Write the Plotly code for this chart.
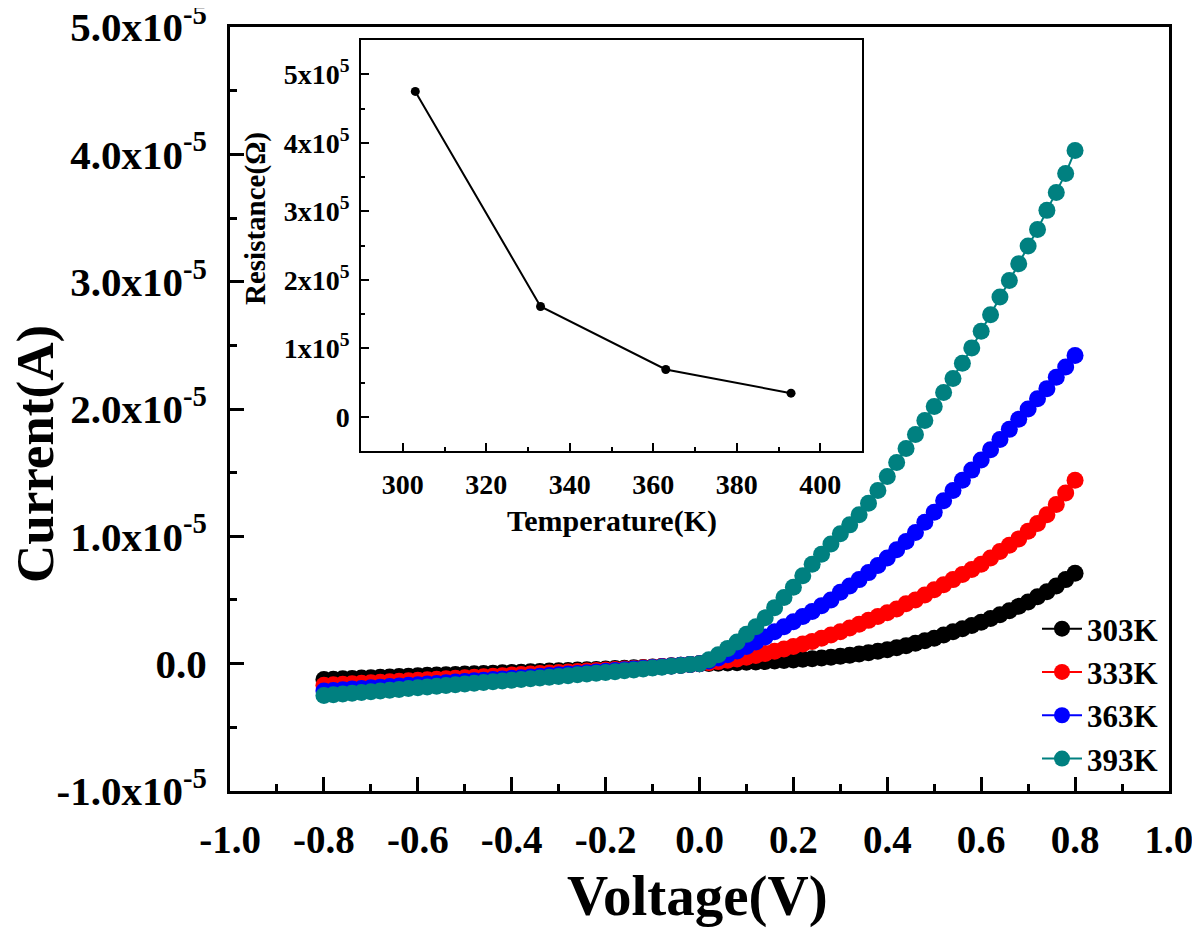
import plotly.graph_objects as go

# ---------------- data ----------------
VOLTAGE = [-0.80, -0.78, -0.76, -0.74, -0.72, -0.70, -0.68, -0.66, -0.64, -0.62,
           -0.60, -0.58, -0.56, -0.54, -0.52, -0.50, -0.48, -0.46, -0.44, -0.42,
           -0.40, -0.38, -0.36, -0.34, -0.32, -0.30, -0.28, -0.26, -0.24, -0.22,
           -0.20, -0.18, -0.16, -0.14, -0.12, -0.10, -0.08, -0.06, -0.04, -0.02,
           0.00, 0.02, 0.04, 0.06, 0.08, 0.10, 0.12, 0.14, 0.16, 0.18,
           0.20, 0.22, 0.24, 0.26, 0.28, 0.30, 0.32, 0.34, 0.36, 0.38,
           0.40, 0.42, 0.44, 0.46, 0.48, 0.50, 0.52, 0.54, 0.56, 0.58,
           0.60, 0.62, 0.64, 0.66, 0.68, 0.70, 0.72, 0.74, 0.76, 0.78, 0.80]

# currents in units of 1e-5 A
I_303K = [-0.125, -0.122, -0.119, -0.116, -0.113, -0.110, -0.107, -0.104, -0.101, -0.098,
          -0.095, -0.092, -0.090, -0.087, -0.085, -0.082, -0.080, -0.077, -0.075, -0.072,
          -0.070, -0.067, -0.064, -0.061, -0.058, -0.056, -0.053, -0.050, -0.047, -0.045,
          -0.042, -0.039, -0.036, -0.033, -0.030, -0.026, -0.022, -0.017, -0.012, -0.006,
          0.000, 0.002, 0.004, 0.006, 0.008, 0.011, 0.014, 0.017, 0.021, 0.025,
          0.029, 0.034, 0.039, 0.045, 0.051, 0.058, 0.066, 0.075, 0.085, 0.097,
          0.110, 0.125, 0.140, 0.160, 0.180, 0.200, 0.225, 0.250, 0.275, 0.300,
          0.325, 0.355, 0.385, 0.415, 0.450, 0.485, 0.525, 0.565, 0.610, 0.660, 0.710]

I_333K = [-0.170, -0.166, -0.162, -0.158, -0.154, -0.150, -0.146, -0.142, -0.138, -0.134,
          -0.130, -0.126, -0.122, -0.118, -0.114, -0.110, -0.106, -0.102, -0.098, -0.094,
          -0.090, -0.086, -0.082, -0.078, -0.074, -0.070, -0.066, -0.062, -0.058, -0.054,
          -0.050, -0.046, -0.042, -0.038, -0.033, -0.028, -0.023, -0.018, -0.012, -0.006,
          0.000, 0.007, 0.016, 0.026, 0.037, 0.050, 0.064, 0.080, 0.097, 0.115,
          0.135, 0.155, 0.175, 0.200, 0.225, 0.250, 0.280, 0.310, 0.340, 0.370,
          0.400, 0.430, 0.470, 0.500, 0.540, 0.580, 0.620, 0.660, 0.700, 0.740,
          0.780, 0.830, 0.880, 0.930, 0.980, 1.040, 1.100, 1.170, 1.250, 1.340, 1.440]

I_363K = [-0.215, -0.210, -0.205, -0.200, -0.195, -0.190, -0.185, -0.180, -0.175, -0.170,
          -0.165, -0.160, -0.155, -0.150, -0.145, -0.140, -0.135, -0.130, -0.125, -0.120,
          -0.115, -0.110, -0.104, -0.099, -0.093, -0.088, -0.082, -0.077, -0.071, -0.066,
          -0.060, -0.054, -0.048, -0.042, -0.036, -0.030, -0.024, -0.018, -0.012, -0.006,
          0.000, 0.020, 0.045, 0.070, 0.100, 0.135, 0.170, 0.210, 0.250, 0.290,
          0.330, 0.370, 0.410, 0.455, 0.500, 0.560, 0.610, 0.660, 0.715, 0.770,
          0.830, 0.895, 0.960, 1.030, 1.110, 1.190, 1.280, 1.360, 1.440, 1.520,
          1.600, 1.680, 1.760, 1.840, 1.920, 2.000, 2.080, 2.160, 2.250, 2.330, 2.420]

I_393K = [-0.250, -0.244, -0.238, -0.232, -0.226, -0.220, -0.214, -0.208, -0.202, -0.196,
          -0.190, -0.184, -0.178, -0.172, -0.166, -0.160, -0.154, -0.148, -0.142, -0.136,
          -0.130, -0.124, -0.118, -0.112, -0.106, -0.100, -0.094, -0.088, -0.082, -0.076,
          -0.070, -0.063, -0.056, -0.049, -0.042, -0.035, -0.028, -0.021, -0.014, -0.007,
          0.000, 0.030, 0.070, 0.120, 0.170, 0.230, 0.290, 0.360, 0.440, 0.520,
          0.600, 0.690, 0.780, 0.860, 0.940, 1.020, 1.090, 1.170, 1.260, 1.360,
          1.470, 1.580, 1.690, 1.800, 1.910, 2.020, 2.130, 2.240, 2.360, 2.480,
          2.610, 2.740, 2.880, 3.010, 3.140, 3.280, 3.410, 3.560, 3.700, 3.850, 4.030]

SERIES_NAMES = ["303K", "333K", "363K", "393K"]
SERIES_COLORS = ["#000000", "#ff0000", "#0000ff", "#008080"]

TEMPERATURE = [303, 333, 363, 393]
RESISTANCE = [4.75e5, 1.61e5, 0.69e5, 0.344e5]

X_TICKS = [-1.0, -0.8, -0.6, -0.4, -0.2, 0.0, 0.2, 0.4, 0.6, 0.8, 1.0]
X_TICK_TEXT = ["-1.0", "-0.8", "-0.6", "-0.4", "-0.2", "0.0", "0.2", "0.4", "0.6", "0.8", "1.0"]
Y_TICKS = [-1e-5, 0, 1e-5, 2e-5, 3e-5, 4e-5, 5e-5]
Y_TICK_TEXT = ["-1.0x10<sup>-5</sup>", "0.0", "1.0x10<sup>-5</sup>", "2.0x10<sup>-5</sup>",
               "3.0x10<sup>-5</sup>", "4.0x10<sup>-5</sup>", "5.0x10<sup>-5</sup>"]
INSET_X_TICKS = [300, 320, 340, 360, 380, 400]
INSET_Y_TICKS = [0, 1e5, 2e5, 3e5, 4e5, 5e5]
INSET_Y_TICK_TEXT = ["0", "1x10<sup>5</sup>", "2x10<sup>5</sup>", "3x10<sup>5</sup>",
                     "4x10<sup>5</sup>", "5x10<sup>5</sup>"]

# ---------------- layout geometry ----------------
OFF = 8  # page body margin
W, H = 1200 - OFF, 930 - OFF
# desired plot area in page pixels: x 230..1169, y 27..791
L, T = 230 - OFF, 27 - OFF
R = W - (1169 - OFF)
B = H - (791 - OFF)
PW, PH = W - L - R, H - T - B


def px(x):
    """page pixel x -> paper coordinate"""
    return (x - OFF - L) / PW


def py(y):
    """page pixel y -> paper coordinate"""
    return (H - B - (y - OFF)) / PH


FONT = "Liberation Serif"

fig = go.Figure()

for name, color, vals in zip(SERIES_NAMES, SERIES_COLORS, [I_303K, I_333K, I_363K, I_393K]):
    fig.add_trace(go.Scatter(
        x=VOLTAGE, y=[v * 1e-5 for v in vals], name=name, mode="lines+markers",
        line=dict(color=color, width=2),
        marker=dict(color=color, size=17, line=dict(width=0)),
        xaxis="x", yaxis="y", hoverinfo="skip"))

fig.add_trace(go.Scatter(
    x=TEMPERATURE, y=RESISTANCE, mode="lines+markers", showlegend=False,
    line=dict(color="black", width=2), marker=dict(color="black", size=9),
    xaxis="x2", yaxis="y2", hoverinfo="skip"))

axis_common = dict(showline=True, linecolor="black", mirror=True, showgrid=False,
                   zeroline=False, ticks="inside", tickcolor="black", automargin=False,
                   ticklabeloverflow="allow")

fig.update_layout(
    width=W, height=H, autosize=False,
    margin=dict(l=L, r=R, t=T, b=B, pad=0, autoexpand=False),
    paper_bgcolor="white", plot_bgcolor="white",
    font=dict(family=FONT, color="black", weight="bold"),
    xaxis=dict(**axis_common, domain=[0, 1], range=[-1.0001, 1.0001], linewidth=3,
               tickvals=X_TICKS, ticktext=X_TICK_TEXT, ticklen=14, tickwidth=3,
               tickfont=dict(family=FONT, size=39, weight="bold"), ticklabelstandoff=12,
               minor=dict(ticks="inside", dtick=0.1, ticklen=7, tickwidth=3, tickcolor="black")),
    yaxis=dict(**axis_common, domain=[0, 1], range=[-1.0001e-5, 5.0001e-5], linewidth=3,
               tickvals=Y_TICKS, ticktext=Y_TICK_TEXT, ticklen=14, tickwidth=3,
               tickfont=dict(family=FONT, size=41, weight="bold"), ticklabelstandoff=12,
               minor=dict(ticks="inside", dtick=0.5e-5, tick0=0, ticklen=7, tickwidth=3,
                          tickcolor="black")),
    xaxis2=dict(**axis_common, domain=[px(361), px(862)], anchor="y2", range=[290, 410],
                linewidth=1.5, tickvals=INSET_X_TICKS, ticklen=8, tickwidth=1.5,
                tickfont=dict(family=FONT, size=28, weight="bold"), ticklabelstandoff=8,
                minor=dict(ticks="inside", dtick=10, ticklen=4, tickwidth=1.5,
                           tickcolor="black")),
    yaxis2=dict(**axis_common, domain=[py(451), py(40)], anchor="x2", range=[-0.5e5, 5.5e5],
                linewidth=1.5, tickvals=INSET_Y_TICKS, ticktext=INSET_Y_TICK_TEXT,
                ticklen=8, tickwidth=1.5,
                tickfont=dict(family=FONT, size=28, weight="bold"), ticklabelstandoff=4,
                minor=dict(ticks="inside", dtick=0.5e5, tick0=0, ticklen=4, tickwidth=1.5,
                           tickcolor="black")),
    legend=dict(x=px(1163), xanchor="right", y=py(786), yanchor="bottom",
                bgcolor="rgba(0,0,0,0)", borderwidth=0, tracegroupgap=0,
                font=dict(family=FONT, size=31, weight="bold", color="black"),
                itemwidth=40),
    annotations=[
        dict(text="Current(A)", x=px(36), y=py(454), xref="paper", yref="paper",
             showarrow=False, textangle=-90, xanchor="center", yanchor="middle",
             font=dict(family=FONT, size=53, weight="bold")),
        dict(text="Voltage(V)", x=px(697), y=py(896), xref="paper", yref="paper",
             showarrow=False, xanchor="center", yanchor="middle",
             font=dict(family=FONT, size=57, weight="bold")),
        dict(text="Temperature(K)", x=px(612), y=py(521), xref="paper", yref="paper",
             showarrow=False, xanchor="center", yanchor="middle",
             font=dict(family=FONT, size=30, weight="bold")),
        dict(text="Resistance(Ω)", x=px(255), y=py(219), xref="paper", yref="paper",
             showarrow=False, textangle=-90, xanchor="center", yanchor="middle",
             font=dict(family=FONT, size=29, weight="bold")),
    ],
)

fig.write_html("out.html")
